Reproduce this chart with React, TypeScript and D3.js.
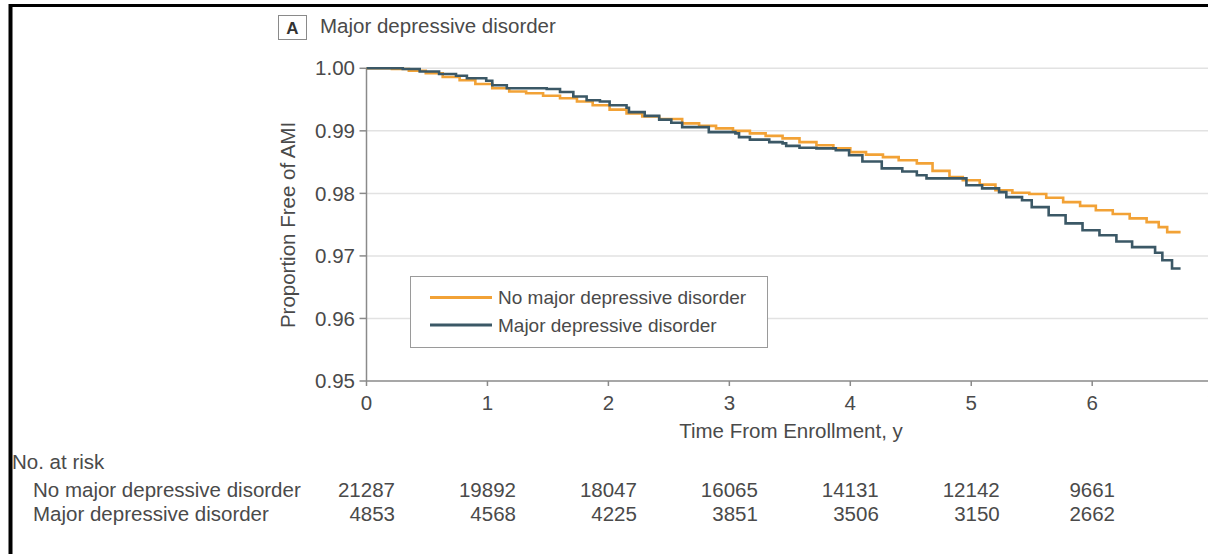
import React from 'react';
import * as d3 from 'd3';

// ---- Data ----
const noMddTimes = [0, 0.21, 0.35, 0.49, 0.63, 0.77, 0.9, 1.04, 1.18, 1.32, 1.46, 1.6, 1.74, 1.87, 2.01, 2.15, 2.28, 2.42, 2.61, 2.75, 2.89, 3.03, 3.17, 3.3, 3.44, 3.58, 3.72, 3.86, 4.0, 4.13, 4.27, 4.4, 4.55, 4.68, 4.82, 4.93, 5.07, 5.2, 5.34, 5.48, 5.62, 5.76, 5.9, 6.03, 6.17, 6.31, 6.45, 6.55, 6.62, 6.72];
const noMddSurv = [1.0, 0.9999, 0.9996, 0.9992, 0.9986, 0.9981, 0.9975, 0.9968, 0.9963, 0.996, 0.9956, 0.9952, 0.9947, 0.9941, 0.9934, 0.9928, 0.9923, 0.9919, 0.9912, 0.9908, 0.9904, 0.99, 0.9896, 0.9892, 0.9888, 0.9882, 0.9877, 0.9872, 0.9866, 0.9862, 0.9858, 0.9853, 0.9848, 0.9836, 0.9826, 0.9821, 0.9814, 0.9805, 0.9801, 0.9799, 0.9793, 0.9786, 0.978, 0.9773, 0.9767, 0.976, 0.9754, 0.9746, 0.9738, 0.9736];

const mddTimes = [0, 0.3, 0.44, 0.6, 0.74, 0.83, 0.99, 1.04, 1.16, 1.49, 1.6, 1.71, 1.82, 1.93, 2.01, 2.15, 2.17, 2.3, 2.42, 2.52, 2.61, 2.83, 3.05, 3.08, 3.17, 3.33, 3.44, 3.47, 3.58, 3.72, 3.88, 3.99, 4.1, 4.26, 4.43, 4.55, 4.63, 4.96, 5.09, 5.23, 5.29, 5.42, 5.5, 5.64, 5.78, 5.92, 6.06, 6.2, 6.33, 6.52, 6.58, 6.66, 6.72];
const mddSurv = [1.0, 0.9999, 0.9995, 0.9991, 0.9988, 0.9984, 0.998, 0.9973, 0.9968, 0.9967, 0.9962, 0.9955, 0.9949, 0.9947, 0.9941, 0.9937, 0.993, 0.9924, 0.9918, 0.9913, 0.9906, 0.9898, 0.9896, 0.989, 0.9886, 0.9882, 0.988, 0.9876, 0.9873, 0.9872, 0.9869, 0.9861, 0.9851, 0.984, 0.9835, 0.9829, 0.9824, 0.9813, 0.9808, 0.9802, 0.9794, 0.9789, 0.9778, 0.9765, 0.9752, 0.9741, 0.9733, 0.9723, 0.9714, 0.9705, 0.9693, 0.968, 0.9678];

const xTicks = [0, 1, 2, 3, 4, 5, 6, 7];
const yTicks = [0.95, 0.96, 0.97, 0.98, 0.99, 1.0];
const gridTicks = [0.96, 0.97, 0.98, 0.99, 1.0];

const seriesNames = ['No major depressive disorder', 'Major depressive disorder'];
const riskTimes = [0, 1, 2, 3, 4, 5, 6];
const riskNoMdd = [21287, 19892, 18047, 16065, 14131, 12142, 9661];
const riskMdd = [4853, 4568, 4225, 3851, 3506, 3150, 2662];

const ORANGE = '#F2A236';
const DARK = '#3B5866';
const TEXT = '#4a4a4a';
const FONT = '"Liberation Sans", Arial, sans-serif';

export default function App() {
  const W = 1208;
  const H = 554;
  const x = d3.scaleLinear().domain([0, 7]).range([366.5, 366.5 + 7 * 120.95]);
  const y = d3.scaleLinear().domain([0.95, 1.0]).range([381, 68.3]);

  const line = d3
    .line<[number, number]>()
    .x((d) => x(d[0]))
    .y((d) => y(d[1]))
    .curve(d3.curveStepAfter);

  const noMddPts = noMddTimes.map((t, i) => [t, noMddSurv[i]] as [number, number]);
  const mddPts = mddTimes.map((t, i) => [t, mddSurv[i]] as [number, number]);

  const fs = 20.5;
  const digitW = 0.556 * fs;

  const riskRows = [riskNoMdd, riskMdd];
  const rowBaselines = [497, 521];

  return (
    <div style={{ position: 'absolute', left: 0, top: 0 }}>
      <svg width={W} height={H} style={{ display: 'block', background: '#fff' }} fontFamily={FONT}>
        <rect x={0} y={0} width={W} height={H} fill="#fff" />
        {/* frame */}
        <line x1={10.5} x2={W} y1={5.5} y2={5.5} stroke="#000" strokeWidth={3} />
        <line x1={10.5} x2={10.5} y1={4} y2={H} stroke="#000" strokeWidth={4} />

        {/* panel title */}
        <rect x={278.5} y={15.5} width={28} height={24} fill="#fff" stroke="#8a8a8a" strokeWidth={1} />
        <text x={292.5} y={33.5} textAnchor="middle" fontSize={17} fontWeight="bold" fill="#333">A</text>
        <text x={320} y={33.3} fontSize={fs} fill={TEXT}>Major depressive disorder</text>

        {/* gridlines */}
        {gridTicks.map((v) => (
          <line key={'g' + v} x1={x(0)} x2={W} y1={y(v)} y2={y(v)} stroke="#e2e2e2" strokeWidth={1.5} />
        ))}

        {/* y axis */}
        <line x1={x(0)} x2={x(0)} y1={y(1.0)} y2={y(0.95)} stroke="#8a8a8a" strokeWidth={1.5} />
        {yTicks.map((v) => (
          <g key={'y' + v}>
            <line x1={x(0) - 7} x2={x(0)} y1={y(v)} y2={y(v)} stroke="#8a8a8a" strokeWidth={1.5} />
            <text x={355} y={y(v)} dy="0.35em" textAnchor="end" fontSize={fs} fill={TEXT}>
              {d3.format('.2f')(v)}
            </text>
          </g>
        ))}
        <text
          transform={`translate(295,225) rotate(-90)`}
          textAnchor="middle"
          fontSize={fs}
          fill={TEXT}
        >
          Proportion Free of AMI
        </text>

        {/* x axis */}
        <line x1={x(0)} x2={W} y1={y(0.95)} y2={y(0.95)} stroke="#8a8a8a" strokeWidth={1.5} />
        {xTicks.map((t) => (
          <g key={'x' + t}>
            <line x1={x(t)} x2={x(t)} y1={y(0.95)} y2={y(0.95) + 5} stroke="#8a8a8a" strokeWidth={1.5} />
            <text x={x(t)} y={410} textAnchor="middle" fontSize={fs} fill={TEXT}>
              {t}
            </text>
          </g>
        ))}
        <text x={791} y={438} textAnchor="middle" fontSize={fs} fill={TEXT}>
          Time From Enrollment, y
        </text>

        {/* curves */}
        <path d={line(noMddPts) || ''} fill="none" stroke={ORANGE} strokeWidth={2.6} />
        <path d={line(mddPts) || ''} fill="none" stroke={DARK} strokeWidth={2.6} />

        {/* legend */}
        <rect x={410.5} y={276.5} width={357} height={71} fill="#fff" stroke="#9a9a9a" strokeWidth={1} />
        <line x1={430} x2={492} y1={297.5} y2={297.5} stroke={ORANGE} strokeWidth={3} />
        <line x1={430} x2={492} y1={325} y2={325} stroke={DARK} strokeWidth={3} />
        <text x={498} y={304} fontSize={19} fill={TEXT}>{seriesNames[0]}</text>
        <text x={498} y={331.5} fontSize={19} fill={TEXT}>{seriesNames[1]}</text>

        {/* number at risk */}
        <text x={12} y={469} fontSize={fs} fill={TEXT}>No. at risk</text>
        {seriesNames.map((name, r) => (
          <text key={'rl' + r} x={33} y={rowBaselines[r]} fontSize={fs} fill={TEXT}>{name}</text>
        ))}
        {riskTimes.map((t, c) => {
          const maxLen = Math.max(String(riskNoMdd[c]).length, String(riskMdd[c]).length);
          const right = x(t) + (maxLen * digitW) / 2;
          return riskRows.map((row, r) => (
            <text key={'rv' + r + '-' + c} x={right} y={rowBaselines[r]} textAnchor="end" fontSize={fs} fill={TEXT}>
              {row[c]}
            </text>
          ));
        })}
      </svg>
    </div>
  );
}
